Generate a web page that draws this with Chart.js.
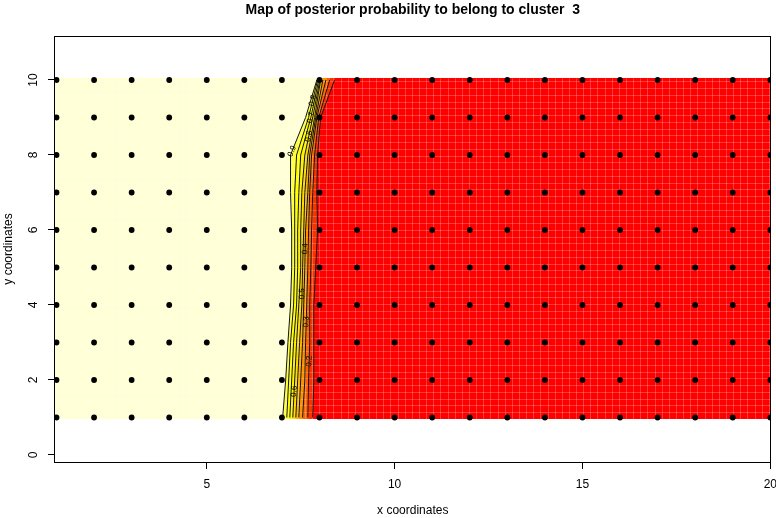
<!DOCTYPE html>
<html>
<head>
<meta charset="utf-8">
<script src="https://cdn.jsdelivr.net/npm/chart.js@4.4.1/dist/chart.umd.min.js"></script>
<style>
  body { margin: 0; background: #fff; }
</style>
</head>
<body>
<canvas id="chart" width="776" height="518"></canvas>
<script>
// sampling grid of the map
const gridX = [1, 2, 3, 4, 5, 6, 7, 8, 9, 10, 11, 12, 13, 14, 15, 16, 17, 18, 19, 20];
const gridY = [1, 2, 3, 4, 5, 6, 7, 8, 9, 10];
const xTicks = [5, 10, 15, 20];
const yTicks = [0, 2, 4, 6, 8, 10];
const imgX = [0.96, 20.04];
const imgY = [0.96, 10.04];

// x position of each contour level, read on the rows y = 1..10
const rowsY = [1, 2, 3, 4, 5, 6, 7, 8, 9, 10];
const levels = [0.9, 0.8, 0.7, 0.6, 0.5, 0.4, 0.3, 0.2, 0.1];
const c90 = [7.02, 7.10, 7.16, 7.23, 7.26, 7.26, 7.23, 7.23, 7.63, 7.93];
const c80 = [7.13, 7.18, 7.23, 7.31, 7.34, 7.34, 7.34, 7.39, 7.71, 7.95];
const c70 = [7.21, 7.26, 7.31, 7.39, 7.42, 7.42, 7.45, 7.50, 7.77, 7.98];
const c60 = [7.29, 7.34, 7.39, 7.45, 7.50, 7.50, 7.53, 7.61, 7.82, 8.01];
const c50 = [7.37, 7.42, 7.47, 7.53, 7.55, 7.58, 7.61, 7.69, 7.87, 8.03];
const c40 = [7.45, 7.50, 7.55, 7.58, 7.61, 7.63, 7.69, 7.74, 7.90, 8.09];
const c30 = [7.55, 7.61, 7.63, 7.66, 7.69, 7.71, 7.74, 7.79, 7.93, 8.17];
const c20 = [7.69, 7.71, 7.74, 7.74, 7.77, 7.79, 7.82, 7.87, 7.98, 8.27];
const c10 = [7.82, 7.85, 7.85, 7.85, 7.90, 7.95, 7.93, 7.95, 8.03, 8.40];
const contours = [c90, c80, c70, c60, c50, c40, c30, c20, c10];

// heat colours, from high probability (left) to low (right)
const bandColors = ['#FFFFD5', '#FFFF40', '#FFFF00', '#FFF000', '#FFD800',
                    '#FFB000', '#FF9000', '#FF6000', '#FF3000', '#FF0000'];

// where the contour labels sit (level, row)
const labelLevels = [0.9, 0.8, 0.7, 0.6, 0.5, 0.4, 0.3, 0.2, 0.6];
const labelRows = [8.1, 9.45, 9.0, 8.5, 4.3, 5.5, 3.55, 2.5, 1.7];

Chart.defaults.font.family = '"Liberation Sans", Arial, Helvetica, sans-serif';
Chart.defaults.color = '#000';

const ctx = document.getElementById('chart').getContext('2d');

const linePts = xs => xs.map((x, i) => ({x: x, y: rowsY[i]}));
const points = [];
gridY.forEach(yv => gridX.forEach(xv => points.push({x: xv, y: yv})));

const leftEdge = rowsY.map(() => imgX[0]);
const rightEdge = rowsY.map(() => imgX[1]);
const bounds = [leftEdge].concat(contours, [rightEdge]);

const datasets = [];
datasets.push({
    type: 'scatter',
    data: points,
    pointRadius: 2.9,
    pointBackgroundColor: '#000',
    pointBorderWidth: 0
});
contours.forEach(c => datasets.push({
    type: 'line',
    data: linePts(c),
    borderColor: '#111',
    borderWidth: 1,
    pointRadius: 0,
    fill: false,
    tension: 0
}));
const bandStart = datasets.length;
bandColors.forEach((col, i) => {
    let a = linePts(bounds[i]);
    let b = linePts(bounds[i + 1]).reverse();
    // top and bottom of the image
    a[0] = {x: a[0].x, y: imgY[0]};
    a[a.length - 1] = {x: a[a.length - 1].x, y: imgY[1]};
    b[0] = {x: b[0].x, y: imgY[1]};
    b[b.length - 1] = {x: b[b.length - 1].x, y: imgY[0]};
    datasets.push({
        type: 'line',
        data: a.concat(b),
        backgroundColor: col,
        borderColor: col,
        borderWidth: 1,
        pointRadius: 0,
        fill: 'shape',
        tension: 0
    });
});

const overlay = {
    id: 'overlay',
    afterDatasetDraw(chart, args) {
        if (args.index !== bandStart) return;
        // faint cell seams of the image
        const {ctx, chartArea: a, scales: {x, y}} = chart;
        const l = x.getPixelForValue(imgX[0]), r = x.getPixelForValue(imgX[1]);
        const t = y.getPixelForValue(imgY[1]), b = y.getPixelForValue(imgY[0]);
        ctx.save();
        ctx.beginPath();
        ctx.rect(a.left, a.top, a.width, a.height);
        ctx.clip();
        ctx.strokeStyle = 'rgba(255,255,255,0.22)';
        ctx.lineWidth = 1;
        ctx.beginPath();
        for (let v = imgX[0] + 0.19; v < imgX[1]; v += 0.19) {
            const px = Math.round(x.getPixelForValue(v)) + 0.5;
            ctx.moveTo(px, t); ctx.lineTo(px, b);
        }
        for (let v = imgY[0] + 0.18; v < imgY[1]; v += 0.18) {
            const py = Math.round(y.getPixelForValue(v)) + 0.5;
            ctx.moveTo(l, py); ctx.lineTo(r, py);
        }
        ctx.stroke();
        ctx.restore();
    },
    afterDatasetsDraw(chart) {
        const {ctx, scales: {x, y}} = chart;
        ctx.save();
        ctx.font = '8px "Liberation Sans", Arial, sans-serif';
        ctx.fillStyle = '#000';
        ctx.textAlign = 'center';
        ctx.textBaseline = 'middle';
        labelLevels.forEach((lv, k) => {
            const c = contours[levels.indexOf(lv)];
            const yr = labelRows[k];
            const i = Math.min(Math.floor(yr) - 1, rowsY.length - 2);
            const f = yr - rowsY[i];
            const xv = c[i] + (c[i + 1] - c[i]) * f;
            const px = x.getPixelForValue(xv), py = y.getPixelForValue(yr);
            const dx = x.getPixelForValue(c[i + 1]) - x.getPixelForValue(c[i]);
            const dy = y.getPixelForValue(rowsY[i + 1]) - y.getPixelForValue(rowsY[i]);
            ctx.save();
            ctx.translate(px, py);
            ctx.rotate(Math.atan2(dy, dx));
            ctx.fillText(lv.toFixed(1), 0, 0);
            ctx.restore();
        });
        ctx.restore();
    },
    afterDraw(chart) {
        const {ctx, chartArea: a} = chart;
        ctx.save();
        ctx.strokeStyle = '#000';
        ctx.lineWidth = 1;
        ctx.strokeRect(Math.round(a.left) - 0.5, Math.round(a.top) + 0.5,
                       Math.round(a.right) - Math.round(a.left), Math.round(a.bottom) - Math.round(a.top));
        ctx.font = 'bold 14px "Liberation Sans", Arial, sans-serif';
        ctx.fillStyle = '#000';
        ctx.textAlign = 'center';
        ctx.textBaseline = 'alphabetic';
        ctx.fillText('Map of posterior probability to belong to cluster  3', (a.left + a.right) / 2, 13.5);
        ctx.restore();
    }
};

new Chart(ctx, {
    type: 'scatter',
    data: {datasets: datasets},
    options: {
        responsive: false,
        animation: false,
        events: [],
        layout: {padding: {top: 36, right: 5.5, bottom: 0, left: 0}},
        scales: {
            x: {
                type: 'linear',
                min: 0.96,
                max: 20.005,
                afterBuildTicks: s => { s.ticks = xTicks.map(v => ({value: v})); },
                afterFit: s => { s.height = 56; s.paddingLeft = 0; s.paddingRight = 0; },
                grid: {drawOnChartArea: false, drawTicks: true, tickLength: 7, color: '#000'},
                border: {display: false},
                ticks: {color: '#000', font: {size: 12}, padding: 8, maxRotation: 0, autoSkip: false,
                        callback: v => String(v)},
                title: {display: true, text: 'x coordinates', color: '#000', font: {size: 12},
                        padding: {top: 0, bottom: 0}}
            },
            y: {
                type: 'linear',
                min: -0.187,
                max: 11.173,
                afterBuildTicks: s => { s.ticks = yTicks.map(v => ({value: v})); },
                afterFit: s => { s.width = 55; s.paddingTop = 0; s.paddingBottom = 0; },
                grid: {drawOnChartArea: false, drawTicks: true, tickLength: 7, color: '#000'},
                border: {display: false},
                ticks: {color: '#000', font: {size: 12}, padding: 8, minRotation: 90, maxRotation: 90,
                        crossAlign: 'center', autoSkip: false, callback: v => String(v)},
                title: {display: true, text: 'y coordinates', color: '#000', font: {size: 12},
                        padding: {top: 1, bottom: 0}}
            }
        },
        plugins: {
            legend: {display: false},
            tooltip: {enabled: false}
        }
    },
    plugins: [overlay]
});
</script>
</body>
</html>
